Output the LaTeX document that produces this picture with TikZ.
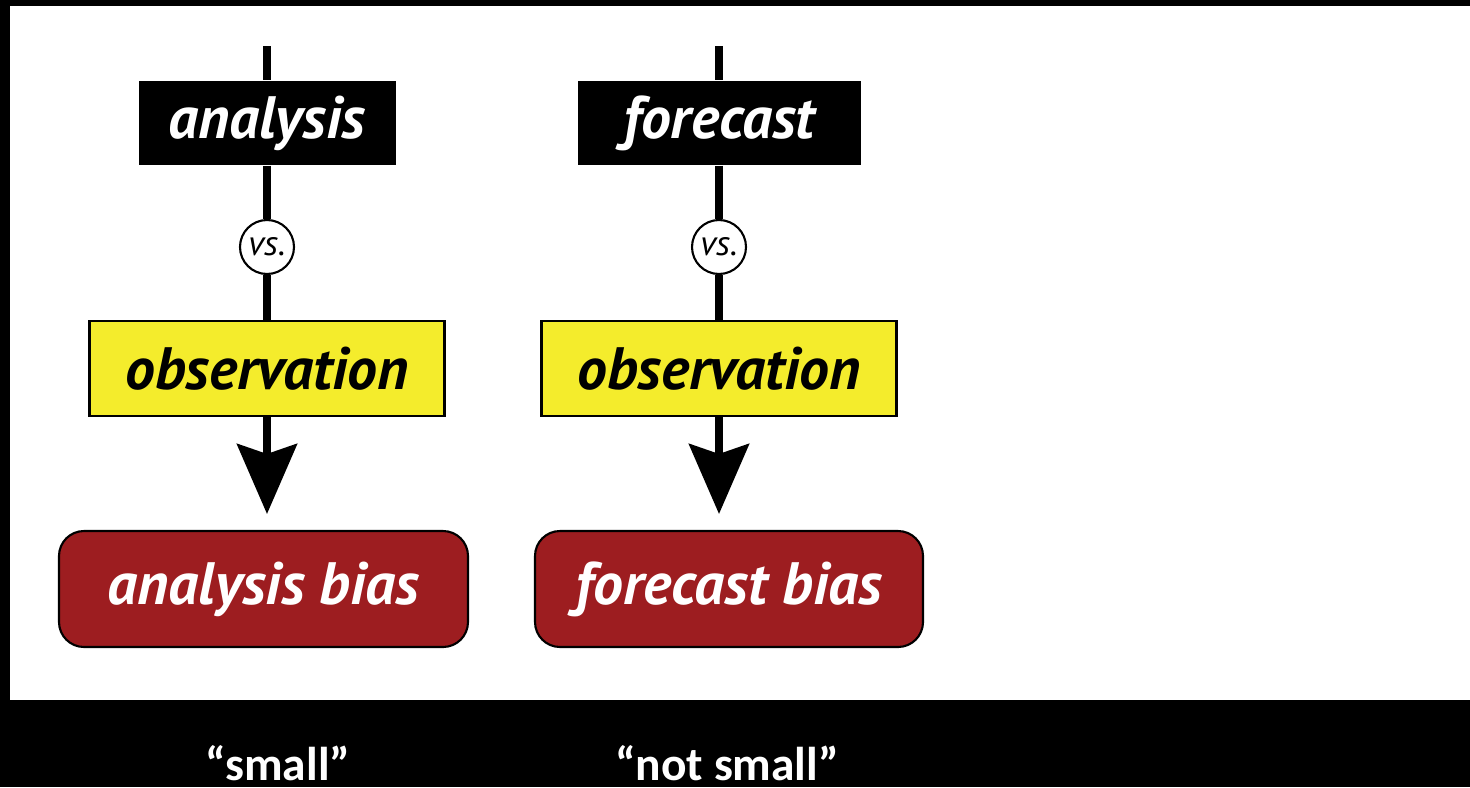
\documentclass[tikz,border=0pt]{standalone}
\usepackage{fontspec}
\setmainfont{PT Sans}
\newfontfamily\quotefont{Carlito}
\usepackage{tikz}
\usetikzlibrary{calc,arrows.meta}
\usepackage{xcolor}
\definecolor{obsyellow}{HTML}{F4EC2C}
\definecolor{biasred}{HTML}{9D1D20}
\tikzset{
  prline/.style={line width=2pt},
  prtop/.style={fill=black, text=white, minimum height=0.84cm, inner sep=0pt,
    font=\bfseries\itshape\fontsize{17}{19}\selectfont},
  prvs/.style={circle, draw, fill=white, line width=0.6pt, minimum size=0.54cm, inner sep=0pt,
    font=\itshape\fontsize{10}{11}\selectfont},
  probs/.style={draw, fill=obsyellow, line width=0.6pt, minimum width=3.55cm, minimum height=0.95cm,
    inner sep=0pt, font=\bfseries\itshape\fontsize{17}{19}\selectfont},
  prbias/.style={draw, fill=biasred, text=white, line width=0.6pt, rounded corners=0.25cm,
    minimum height=1.16cm, inner sep=0pt, font=\bfseries\itshape\fontsize{17}{19}\selectfont},
  prquote/.style={text=white, anchor=base, inner sep=0pt, text depth=0pt,
    font=\quotefont\bfseries\fontsize{13.5}{15}\selectfont},
}
% one column: #1 column, #2 prefix, #3 label, #4 width of top box, #5 width of bias box, #6 shift of bias box
\newcommand{\prcol}[6]{
  \coordinate (#2t) at ($(#1)+(0,7.41)$);
  \node[prtop, minimum width=#4cm] (#2top) at ($(#1)+(0,6.64)$) {#3};
  \node[prvs] (#2vs) at ($(#1)+(0,5.40)$) {vs.};
  \node[probs] (#2obs) at ($(#1)+(0,4.185)$) {observation};
  \node[prbias, minimum width=#5cm] (#2bias) at ($(#1)+(#6,1.98)$) {#3 bias};
  \draw[prline] (#2t) -- (#2top);
  \draw[prline] (#2top) -- (#2vs);
  \draw[prline] (#2vs) -- (#2obs);
  \draw[prline, -{Stealth[length=7mm, width=6mm, inset=1mm]}, shorten >=0.16cm]
    (#2obs) -- (#2obs.south |- #2bias.north);
}

\begin{document}
\begin{tikzpicture}
    \useasboundingbox (0,0) rectangle (14.7,7.87);
    \fill[black] (0,0) rectangle (14.7,7.87);
    \fill[white] (0.10,0.87) rectangle (14.7,7.81);

    \coordinate (A) at (2.67,0);
    \coordinate (F) at (7.19,0);

    \prcol{A}{a}{analysis}{2.57}{4.09}{-0.035}
    \prcol{F}{f}{forecast}{2.83}{3.88}{0.10}

    \node[prquote] (asmall) at (2.78,0.07) {“small”};
    \node[prquote] (fsmall) at (7.27,0.07) {“not small”};
\end{tikzpicture}
\end{document}
